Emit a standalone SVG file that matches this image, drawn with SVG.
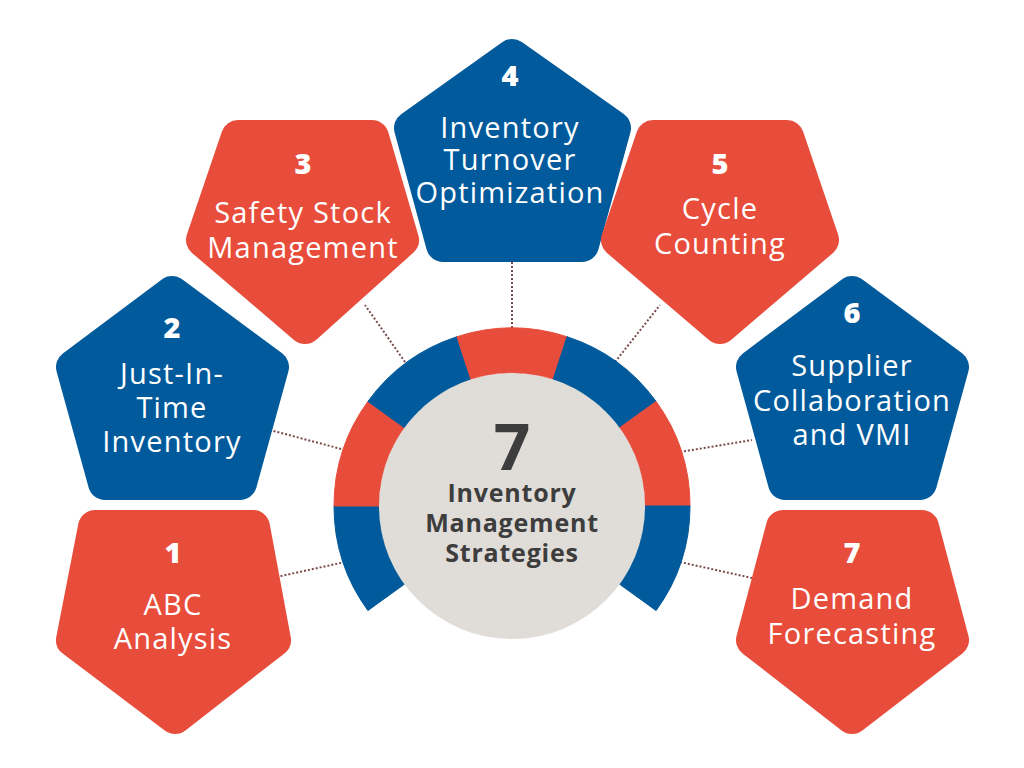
<svg xmlns="http://www.w3.org/2000/svg" width="1024" height="768" viewBox="0 0 1024 768">
<style>
.r{fill:#e84c3a;stroke:#e84c3a}.b{fill:#005a9b;stroke:#005a9b}
.p{stroke-width:34;stroke-linejoin:round}
.n{font-family:"Open Sans","Noto Sans",sans-serif;font-weight:800;font-size:29px;fill:#fff;text-anchor:middle}
.t{font-family:"Open Sans","Noto Sans",sans-serif;font-size:29px;letter-spacing:1.2px;fill:#fff;text-anchor:middle}
.c{font-family:"Open Sans","Noto Sans",sans-serif;font-weight:bold;fill:#3d3d3d;text-anchor:middle}
.l{stroke:#7a4a4a;stroke-width:2;stroke-dasharray:2 2;fill:none}
</style>
<rect width="1024" height="768" fill="#fff"/>
<g id="connectors">
<line class="l" x1="345" y1="562" x2="272" y2="578"/>
<line class="l" x1="345" y1="450" x2="270" y2="430"/>
<line class="l" x1="405" y1="362" x2="365" y2="305"/>
<line class="l" x1="512" y1="328" x2="512" y2="262"/>
<line class="l" x1="615" y1="362" x2="660" y2="305"/>
<line class="l" x1="680" y1="452" x2="752" y2="440"/>
<line class="l" x1="680" y1="562" x2="752" y2="578"/>
</g>
<g id="ring">
<path class="b" d="M367.9,610.6 A178,178 0 0 1 334,506 L379,506 A133,133 0 0 0 404.4,584.2Z" stroke="none"/>
<path class="r" d="M334,506 A178,178 0 0 1 367.9,401.4 L404.4,427.8 A133,133 0 0 0 379,506Z" stroke="none"/>
<path class="b" d="M367.9,401.4 A178,178 0 0 1 457.0,336.7 L470.9,379.5 A133,133 0 0 0 404.4,427.8Z" stroke="none"/>
<path class="r" d="M457.0,336.7 A178,178 0 0 1 567.0,336.7 L553.1,379.5 A133,133 0 0 0 470.9,379.5Z" stroke="none"/>
<path class="b" d="M567.0,336.7 A178,178 0 0 1 656.1,401.4 L619.6,427.8 A133,133 0 0 0 553.1,379.5Z" stroke="none"/>
<path class="r" d="M656.1,401.4 A178,178 0 0 1 690,506 L645,506 A133,133 0 0 0 619.6,427.8Z" stroke="none"/>
<path class="b" d="M690,506 A178,178 0 0 1 656.1,610.6 L619.6,584.2 A133,133 0 0 0 645,506Z" stroke="none"/>
</g>
<g id="center">
<circle cx="512" cy="506" r="133" fill="#e0ddd9"/>
<text class="c" x="512" y="470" font-size="64">7</text>
<text class="c" x="512" y="502" font-size="25" letter-spacing="0.8">Inventory</text>
<text class="c" x="512" y="532" font-size="25" letter-spacing="0.8">Management</text>
<text class="c" x="512" y="562" font-size="25" letter-spacing="0.8">Strategies</text>
</g>
<g id="node1"><polygon class="r p" points="95,527 253,527 274,640 175,717 73,640"/>
<text class="n" x="173" y="563">1</text><text class="t" x="173" y="615">ABC</text><text class="t" x="173" y="649">Analysis</text></g>
<g id="node2"><polygon class="b p" points="172,293 272,367 240,483 105,483 73,367"/>
<text class="n" x="172" y="338">2</text><text class="t" x="172" y="384">Just-In-</text><text class="t" x="172" y="418">Time</text><text class="t" x="172" y="452">Inventory</text></g>
<g id="node3"><polygon class="r p" points="238,137 372,137 402,240 305,327 203,240"/>
<text class="n" x="303" y="174">3</text><text class="t" x="303" y="223">Safety Stock</text><text class="t" x="303" y="258">Management</text></g>
<g id="node4"><polygon class="b p" points="512,56 614,128 582,245 443,245 411,128"/>
<text class="n" x="510" y="86">4</text><text class="t" x="510" y="138">Inventory</text><text class="t" x="510" y="170">Turnover</text><text class="t" x="510" y="203">Optimization</text></g>
<g id="node5"><polygon class="r p" points="653,137 787,137 822,240 720,327 618,240"/>
<text class="n" x="720" y="174">5</text><text class="t" x="720" y="219">Cycle</text><text class="t" x="720" y="254">Counting</text></g>
<g id="node6"><polygon class="b p" points="852,293 952,367 920,483 785,483 753,367"/>
<text class="n" x="852" y="323">6</text><text class="t" x="852" y="376">Supplier</text><text class="t" x="852" y="411">Collaboration</text><text class="t" x="852" y="445">and VMI</text></g>
<g id="node7"><polygon class="r p" points="783,527 922,527 952,640 852,717 753,640"/>
<text class="n" x="852" y="563">7</text><text class="t" x="852" y="609">Demand</text><text class="t" x="852" y="644">Forecasting</text></g>
</svg>
